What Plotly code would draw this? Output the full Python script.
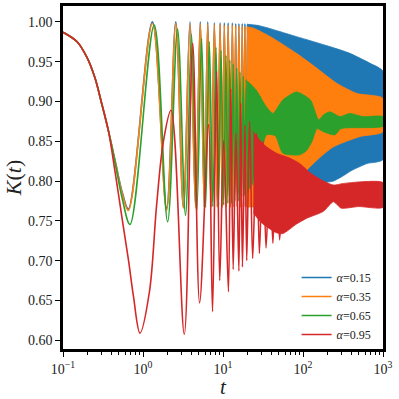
"""K(t) for several alpha values, log time axis."""

import plotly.graph_objects as go

COLORS = ["#1f77b4", "#ff7f0e", "#2ca02c", "#d62728"]
LABELS = ["0.15", "0.35", "0.65", "0.95"]

# resolved oscillations (extrema)
blue_t = [0.1, 0.15, 0.2, 0.25, 0.3, 0.368, 0.45, 0.55, 0.656, 1.31, 1.97, 2.57, 3.2, 3.87, 4.55, 5.2,
          5.85, 6.45, 7.1, 7.8, 8.5, 9.2, 9.8, 10.4, 11.0, 11.6, 12.35, 13.1, 13.75, 14.4, 15.1, 15.8,
          16.6, 17.4, 18.1, 18.8, 19.5, 20.2, 20.9, 21.6, 22.3, 23.0, 23.7, 24.4, 25.1, 25.8, 26.5,
          27.2, 27.9, 28.6]
blue_k = [0.987, 0.975, 0.955, 0.930, 0.900, 0.864, 0.825, 0.786, 0.765, 1.000, 0.766, 1.000, 0.767,
          1.000, 0.768, 1.000, 0.768, 1.000, 0.768, 0.999, 0.768, 0.999, 0.768, 0.999, 0.768, 0.999,
          0.768, 0.999, 0.768, 0.998, 0.768, 0.998, 0.768, 0.998, 0.768, 0.998, 0.768, 0.997, 0.768,
          0.997, 0.768, 0.997, 0.768, 0.996, 0.768, 0.996, 0.768, 0.996, 0.768, 0.995]

orange_t = [0.1, 0.15, 0.2, 0.25, 0.3, 0.368, 0.45, 0.55, 0.656, 1.31, 1.97, 2.57, 3.2, 3.87, 4.55,
            5.2, 5.85, 6.45, 7.1, 7.8, 8.5, 9.2, 9.8, 10.4, 11.0, 11.6, 12.35, 13.1, 13.75, 14.4, 15.1,
            15.8, 16.6, 17.4, 18.1, 18.8, 19.5, 20.2, 20.9, 21.6, 22.3, 23.0, 23.7, 24.4, 25.1, 25.8,
            26.5, 27.2, 27.9, 28.6]
orange_k = [0.987, 0.975, 0.955, 0.930, 0.900, 0.864, 0.824, 0.784, 0.763, 0.998, 0.763, 0.998, 0.766,
            0.998, 0.766, 0.998, 0.767, 0.997, 0.767, 0.997, 0.767, 0.997, 0.767, 0.996, 0.767, 0.996,
            0.767, 0.996, 0.767, 0.995, 0.767, 0.995, 0.767, 0.995, 0.767, 0.994, 0.767, 0.994, 0.767,
            0.993, 0.767, 0.993, 0.767, 0.992, 0.767, 0.991, 0.767, 0.990, 0.767, 0.989]

green_t = [0.1, 0.15, 0.2, 0.25, 0.3, 0.368, 0.45, 0.55, 0.688, 1.38, 2.03, 2.7, 3.4, 4.04, 4.7, 5.4,
           6.05, 6.74, 7.45, 8.18, 8.8, 9.45, 10.2, 10.9, 11.5, 12.2, 12.8, 13.4, 14.1, 14.8, 15.5,
           16.3, 17.1, 17.9, 18.7, 19.5, 20.3, 21.1, 21.9, 22.7, 23.5, 24.3, 25.1, 25.9, 26.7, 27.5,
           28.3, 29.1]
green_k = [0.987, 0.975, 0.955, 0.930, 0.900, 0.864, 0.822, 0.778, 0.7455, 0.996, 0.749, 0.991, 0.757,
           0.984, 0.762, 0.979, 0.767, 0.975, 0.768, 0.968, 0.770, 0.964, 0.770, 0.958, 0.772, 0.952,
           0.772, 0.947, 0.775, 0.942, 0.775, 0.937, 0.780, 0.932, 0.782, 0.928, 0.785, 0.924, 0.790,
           0.921, 0.795, 0.918, 0.800, 0.915, 0.805, 0.911, 0.810, 0.907]

red_t = [0.1, 0.15, 0.2, 0.25, 0.3, 0.368, 0.45, 0.55, 0.66, 0.76, 0.917, 1.2, 1.48, 1.8, 2.24, 3.28,
         4.18, 5.1, 6.6, 7.4, 8.3, 9.1, 10.2, 11.7, 12.5, 13.4, 14.5, 15.8, 16.6, 17.5, 18.8, 19.8,
         21.5, 23.5, 26.3, 28.5, 31.7, 34.5, 38.7, 42.0, 46.6, 51.0, 56.0]
red_k = [0.987, 0.975, 0.955, 0.930, 0.900, 0.864, 0.810, 0.752, 0.700, 0.655, 0.609, 0.660, 0.770,
         0.850, 0.889, 0.6075, 0.973, 0.647, 0.871, 0.636, 0.938, 0.675, 0.851, 0.661, 0.916, 0.689,
         0.860, 0.687, 0.898, 0.692, 0.870, 0.700, 0.875, 0.703, 0.860, 0.709, 0.850, 0.716, 0.830,
         0.722, 0.826, 0.726, 0.800]

# dense part: upper and lower envelopes of the oscillation
blue_up_t = [20, 29, 83, 216, 385, 690, 1000]
blue_up = [0.997, 0.995, 0.9815, 0.969, 0.9605, 0.948, 0.938]
blue_lo_t = [20, 30, 60, 120, 240, 300, 400, 630, 1000]
blue_lo = [0.768, 0.768, 0.775, 0.795, 0.800, 0.805, 0.813, 0.822, 0.827]

orange_up_t = [20, 24, 39, 83, 148, 263, 475, 1000]
orange_up = [0.994, 0.992, 0.9815, 0.9605, 0.942, 0.923, 0.910, 0.904]
orange_lo_t = [20, 40, 90, 148, 240, 517, 1000]
orange_lo = [0.767, 0.775, 0.805, 0.826, 0.843, 0.856, 0.862]

green_up_t = [20, 26, 35, 42, 56, 83, 124, 157, 180, 216, 290, 385, 565, 1000]
green_up = [0.926, 0.914, 0.893, 0.885, 0.902, 0.912, 0.902, 0.877, 0.883, 0.887, 0.881,
            0.885, 0.881, 0.881]
green_lo_t = [20, 28, 35, 45, 56, 91, 110, 130, 150, 180, 250, 300, 1000]
green_lo = [0.785, 0.820, 0.858, 0.857, 0.835, 0.833, 0.838, 0.850, 0.866, 0.862, 0.858,
            0.866, 0.869]

red_up_t = [24, 29, 35, 46.6, 68, 91, 124, 180, 240, 320, 517, 1000]
red_up = [0.862, 0.851, 0.843, 0.835, 0.829, 0.822, 0.810, 0.800, 0.795, 0.797, 0.799, 0.798]
red_lo_t = [24, 30, 46.6, 56, 83, 110, 180, 240, 300, 500, 1000]
red_lo = [0.760, 0.748, 0.735, 0.734, 0.746, 0.753, 0.762, 0.774, 0.766, 0.768, 0.767]

lines = [(blue_t, blue_k), (orange_t, orange_k), (green_t, green_k), (red_t, red_k)]
bands = [
    (blue_up_t, blue_up, blue_lo_t, blue_lo),
    (orange_up_t, orange_up, orange_lo_t, orange_lo),
    (green_up_t, green_up, green_lo_t, green_lo),
    (red_up_t, red_up, red_lo_t, red_lo),
]

FONT = "'Liberation Serif', 'DejaVu Serif', serif"

fig = go.Figure()
for color, label, (t, k), (ut, up, lt, lo) in zip(COLORS, LABELS, lines, bands):
    fig.add_trace(go.Scatter(
        x=t, y=k, mode="lines", line=dict(color=color, width=1.6, shape="spline", smoothing=1.0),
        name=f"<i>α</i>={label}",
    ))
    fig.add_trace(go.Scatter(
        x=ut + lt[::-1], y=up + lo[::-1], mode="lines", fill="toself",
        fillcolor=color, line=dict(color=color, width=0.8, shape="spline", smoothing=0.6),
        showlegend=False, hoverinfo="skip",
    ))

decades = [0.1, 1, 10, 100, 1000]
minor = [d * m for d in decades[:-1] for m in range(2, 10)]

fig.update_layout(
    width=399, height=399,
    margin=dict(l=63, r=16, t=6, b=50),
    paper_bgcolor="white", plot_bgcolor="white",
    font=dict(family=FONT, size=14, color="#222"),
    showlegend=True,
    legend=dict(x=0.98, y=0.0, xanchor="right", yanchor="bottom", bgcolor="rgba(0,0,0,0)",
                font=dict(size=12), tracegroupgap=0),
    xaxis=dict(
        type="log", range=[-1, 3], automargin=False,
        tickvals=decades,
        ticktext=["10<sup>−1</sup>", "10<sup>0</sup>", "10<sup>1</sup>", "10<sup>2</sup>", "10<sup>3</sup>"],
        ticks="outside", ticklen=5, tickwidth=1.2, tickcolor="black",
        minor=dict(tickvals=minor, ticks="outside", ticklen=3, tickwidth=0.8, tickcolor="black"),
        showline=True, linewidth=2.5, linecolor="black", mirror=True,
        showgrid=False, zeroline=False,
        title=dict(text="<i>t</i>", font=dict(size=21), standoff=5),
    ),
    yaxis=dict(
        range=[0.589, 1.02], automargin=False,
        tickvals=[0.60, 0.65, 0.70, 0.75, 0.80, 0.85, 0.90, 0.95, 1.00],
        tickformat=".2f",
        ticks="outside", ticklen=5, tickwidth=1.2, tickcolor="black",
        showline=True, linewidth=2.5, linecolor="black", mirror=True,
        showgrid=False, zeroline=False,
        title=dict(text="<i>K</i>(<i>t</i>)", font=dict(size=22), standoff=1),
    ),
)

# page has a default 8px body margin; drop it so the figure sits at the window corner
fig.write_html("out.html", config={"displayModeBar": False},
               post_script="document.body.style.margin='0';")
